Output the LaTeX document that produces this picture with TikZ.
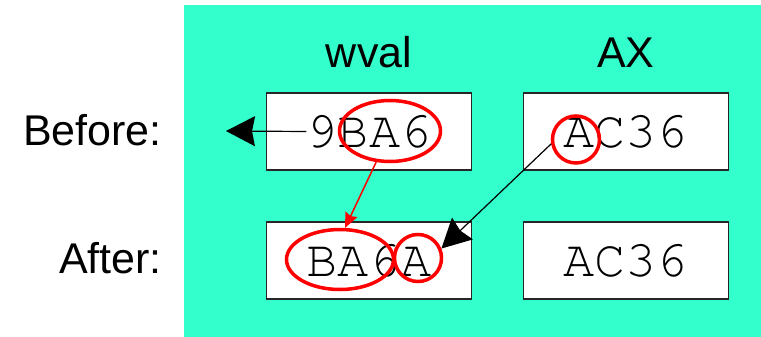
\documentclass[tikz,border=0pt]{standalone}
\usepackage{fontspec}
\setmainfont{Liberation Sans}
\setmonofont{texgyrecursor-regular.otf}
\usepackage{xcolor}
\usetikzlibrary{arrows.meta, shapes.geometric}
\definecolor{aqua}{RGB}{51,255,204}

\begin{document}
\begin{tikzpicture}[x=1pt, y=-1pt,
        regbox/.style={draw=black!85, line width=1.2pt, fill=white, minimum width=205pt, minimum height=77pt, inner sep=0pt},
        hexval/.style={font=\fontsize{52}{52}\selectfont\ttfamily, inner sep=0pt},
        rowname/.style={font=\fontsize{43}{43}\selectfont, inner sep=0pt},
        ring/.style={draw=red, line width=3.5pt, inner sep=0pt},
        bigtip/.style={-{Stealth[length=29pt, width=30pt, inset=3pt]}, line width=1.2pt}]
        \fill[white] (0,0) rectangle (761,337);
        \fill[aqua] (184,5) rectangle (761,337);
        \useasboundingbox (0,0) rectangle (761,337);
        \node[rowname, anchor=base] (wvalname) at (369,67) {wval};
        \node[rowname, anchor=base] (axname) at (625.7,67) {AX};
        \node[rowname, anchor=base east] (before) at (162,146) {Before:};
        \node[rowname, anchor=base east] (after) at (162,273) {After:};
        \node[regbox] (wvalold) at (369,131.5) {};
        \node[regbox] (axold) at (625.7,131.5) {};
        \node[regbox] (wvalnew) at (369,260.5) {};
        \node[regbox] (axnew) at (625.7,260.5) {};
        \node[hexval] (wvaloldtxt) at (wvalold) {9BA6};
        \node[hexval] (axoldtxt) at (axold) {AC36};
        \node[hexval] (wvalnewtxt) at (wvalnew) {BA6A};
        \node[hexval] (axnewtxt) at (axnew) {AC36};
        \node[ring, ellipse, minimum width=101pt, minimum height=61pt] (oldlow) at (390,131) {};
        \node[ring, ellipse, minimum width=107pt, minimum height=60pt] (newhigh) at (340,259.5) {};
        \node[ring, circle, minimum size=47pt] (newlow) at (418,258) {};
        \node[ring, circle, minimum size=47pt] (axlow) at (576,139.5) {};
        \coordinate (spill) at (226,131);
        \draw[bigtip] (wvaloldtxt.west) -- (spill);
        \draw[red, line width=1.5pt, -{Stealth[length=15pt, width=13pt, inset=2pt]}] (oldlow.246) -- (newhigh.81);
        \draw[bigtip] (axlow.190) -- (newlow.22);
    \end{tikzpicture}
\end{document}
